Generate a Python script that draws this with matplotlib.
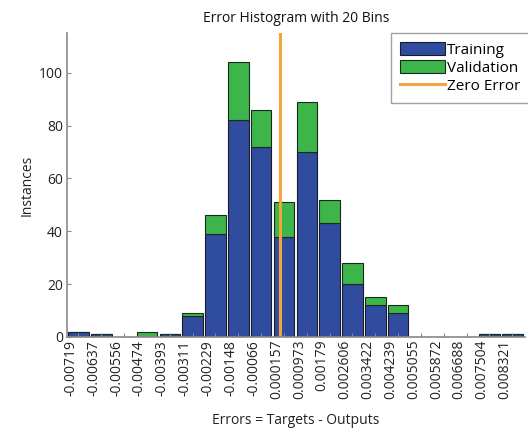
import matplotlib
matplotlib.use("Agg")
import matplotlib.pyplot as plt
import numpy as np

plt.rcParams['font.family'] = ['Open Sans', 'DejaVu Sans']

bin_labels = ["-0.00719", "-0.00637", "-0.00556", "-0.00474", "-0.00393",
              "-0.00311", "-0.00229", "-0.00148", "-0.00066", "0.000157",
              "0.000973", "0.00179", "0.002606", "0.003422", "0.004239",
              "0.005055", "0.005872", "0.006688", "0.007504", "0.008321"]
bin_centers = [float(s) for s in bin_labels]
training = [2, 1, 0, 0, 1, 8, 39, 82, 72, 38, 70, 43, 20, 12, 9, 0, 0, 0, 1, 1]
validation = [0, 0, 0, 2, 0, 1, 7, 22, 14, 13, 19, 9, 8, 3, 3, 0, 0, 0, 0, 0]
zero_error = 0.0

blue = '#2f4c9e'
green = '#3db54a'
orange = '#f2a53a'
gray = '#8a8a8a'

fig = plt.figure(figsize=(5.28, 4.29), dpi=100)
ax = fig.add_axes([0.127, 0.2145, 0.867, 0.7085])

x = np.arange(len(bin_labels))
h1 = ax.bar(x, training, width=0.9, color=blue, edgecolor='#1a1a2a',
            linewidth=0.8, label='Training')
h2 = ax.bar(x, validation, width=0.9, bottom=training, color=green,
            edgecolor='#1a2a1a', linewidth=0.8, label='Validation')

# zero error position interpolated between bin centers
zpos = np.interp(zero_error, bin_centers, x)
h3 = ax.axvline(zpos, color=orange, linewidth=2.2, label='Zero Error')

ax.set_xlim(-0.5, len(x) - 0.45)
ax.set_ylim(0, 115)
ax.set_yticks([0, 20, 40, 60, 80, 100])
ax.set_xticks(x)
ax.set_xticklabels(bin_labels, rotation=90, ha='right', fontsize=10,
                   color='#222222')
for lab in ax.get_yticklabels():
    lab.set_fontsize(10)
    lab.set_color('#222222')
ax.tick_params(direction='in', length=3, color=gray, width=0.8, pad=3)
ax.tick_params(axis='x', pad=2)

for s in ['top', 'right']:
    ax.spines[s].set_visible(False)
for s in ['left', 'bottom']:
    ax.spines[s].set_color(gray)
    ax.spines[s].set_linewidth(1.2)

ax.set_title('Error Histogram with 20 Bins', fontsize=10, color='#111111', pad=8)
ax.set_xlabel('Errors = Targets - Outputs', fontsize=10, color='#222222',
              labelpad=10)
ax.set_ylabel('Instances', fontsize=10, color='#222222', labelpad=3)

leg = ax.legend(handles=[h1, h2, h3], loc='upper right',
                bbox_to_anchor=(1.01, 1.0), fontsize=11,
                frameon=True, fancybox=False, edgecolor=gray,
                handlelength=2.9, handleheight=0.9, handletextpad=0.15,
                borderpad=0.6, labelspacing=0.15, borderaxespad=0.0)
leg.get_frame().set_linewidth(1.0)

fig.savefig('out.png', dpi=100)
